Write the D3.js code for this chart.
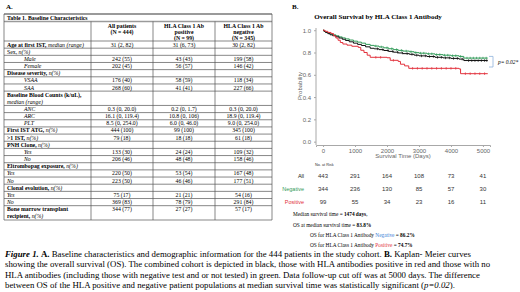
<!DOCTYPE html>
<html>
<head>
<meta charset="utf-8">
<script src="https://cdn.jsdelivr.net/npm/d3@7"></script>
<style>
  body { margin: 0; background: #fff; }
  svg { display: block; }
</style>
</head>
<body>
<div id="fig"></div>
<script>
// ---- Table 1 data ----
const tableTitle = "Table 1. Baseline Characteristics";
const tableHeads = [
  ["All patients", "(N = 444)"],
  ["HLA Class 1 Ab", "positive", "(N = 99)"],
  ["HLA Class 1 Ab", "negative", "(N = 345)"]
];
const rowLabels = [
  "**Age at first IST,** _median (range)_",
  "Sex, _n(%)_",
  "_Male_", "_Female_",
  "**Disease severity,** _n(%)_",
  "_VSAA_", "_SAA_",
  "**Baseline Blood Counts (k/uL),**|_median (range)_",
  "_ANC_", "_ARC_", "_PLT_",
  "**First IST ATG,** _n(%)_",
  "**>1 IST,** _n(%)_",
  "**PNH Clone,** _n(%)_",
  "_Yes_", "_No_",
  "**Eltrombopag exposure,** _n(%)_",
  "_Yes_", "_No_",
  "**Clonal evolution,** _n(%)_",
  "_Yes_", "_No_",
  "**Bone marrow transplant**|**recipient,** _n(%)_"
];
const indentedRows = [2, 3, 5, 6, 8, 9, 10, 14, 15];
const allPatients = ["31 (2, 82)", "", "242 (55)", "202 (45)", "", "176 (40)", "268 (60)", "",
  "0.3 (0, 20.0)", "16.1 (0, 119.4)", "8.5 (0, 254.0)", "444 (100)", "79 (18)", "",
  "133 (30)", "206 (46)", "", "220 (50)", "223 (50)", "", "75 (17)", "369 (83)", "344 (77)"];
const hlaPositive = ["31 (6, 73)", "", "43 (43)", "56 (57)", "", "58 (59)", "41 (41)", "",
  "0.2 (0, 1.7)", "10.8 (0, 106)", "6.0 (0, 46.0)", "99 (100)", "18 (18)", "",
  "24 (24)", "48 (48)", "", "53 (54)", "46 (46)", "", "21 (21)", "78 (79)", "27 (27)"];
const hlaNegative = ["30 (2, 82)", "", "199 (58)", "146 (42)", "", "118 (34)", "227 (66)", "",
  "0.3 (0, 20.0)", "18.9 (0, 119.4)", "9.0 (0, 254.0)", "345 (100)", "61 (18)", "",
  "109 (32)", "158 (46)", "", "167 (48)", "177 (51)", "", "54 (16)", "291 (84)", "57 (17)"];

// ---- Kaplan-Meier data (days, survival probability) ----
const timeTicks = [0, 1000, 2000, 3000, 4000, 5000];
const probTicks = [0, 0.2, 0.4, 0.6, 0.8, 1.0];
const survNegative = [[0,1],[30,0.99],[80,0.982],[150,0.974],[220,0.966],[300,0.959],[400,0.95],[500,0.94],
  [600,0.931],[700,0.922],[820,0.912],[950,0.902],[1080,0.893],[1200,0.884],[1330,0.873],[1474,0.864],
  [1600,0.858],[1750,0.85],[1900,0.842],[2050,0.834],[2200,0.826],[2350,0.819],[2500,0.813],[2700,0.807],
  [2850,0.799],[3000,0.794],[3250,0.788],[3500,0.781],[3750,0.776],[4000,0.771],[4250,0.765],[4400,0.75],[5150,0.75]];
const survAll = [[0,1],[30,0.99],[80,0.979],[150,0.969],[220,0.959],[300,0.951],[400,0.941],[500,0.93],
  [600,0.919],[700,0.908],[820,0.896],[950,0.884],[1080,0.873],[1200,0.863],[1330,0.851],[1474,0.838],
  [1600,0.833],[1750,0.826],[1900,0.818],[2050,0.81],[2200,0.803],[2350,0.796],[2500,0.79],[2700,0.784],
  [2850,0.776],[3000,0.77],[3250,0.764],[3500,0.757],[3750,0.752],[4000,0.747],[4250,0.741],[4400,0.728],[5150,0.728]];
const survPositive = [[0,1],[60,0.99],[150,0.98],[250,0.97],[330,0.95],[400,0.93],[470,0.91],[540,0.89],
  [620,0.876],[750,0.866],[900,0.856],[1100,0.846],[1180,0.82],[1280,0.8],[1380,0.776],[1474,0.757],
  [2000,0.753],[2100,0.73],[2350,0.72],[2420,0.695],[2550,0.68],[2680,0.658],[4250,0.653],[4300,0.61],[5150,0.61]];
const censorNegative = [1650,1820,2000,2150,2300,2450,2600,2750,2900,3050,3150,3300,3400,3550,3650,3800,
  3900,4050,4150,4300,4500,4600,4700,4800,4900,5000,5100];
const censorAll = [1700,1870,2030,2180,2330,2480,2630,2780,2930,3080,3200,3330,3450,3580,3700,3830,
  3950,4080,4200,4350,4550,4650,4750,4850,4950,5050,5120];
const censorPositive = [1650,1800,2200,2800,2950,3100,3250,3400,3550,3700,3850,4000,4150,4450,4600,4750,4900,5050];

const riskGroups = ["All", "Negative", "Positive"];
const riskAll = [443, 291, 164, 108, 73, 41];
const riskNegative = [344, 236, 130, 85, 57, 30];
const riskPositive = [99, 55, 34, 23, 16, 11];

const medianDays = "1474 days";
const osMedian = "83.8%";
const osNegative = "86.2%";
const osPositive = "74.7%";

const captionLines = [
  "__Figure 1.__ **A.** Baseline characteristics and demographic information for the 444 patients in the study cohort. **B.** Kaplan- Meier curves",
  "showing the overall survival (OS). The combined cohort is depicted in black, those with HLA antibodies positive in red and those with no",
  "HLA antibodies (including those with negative test and or not tested) in green. Data follow-up cut off was at 5000 days. The difference",
  "between OS of the HLA positive and negative patient populations at median survival time was statistically significant (_p=0.02_)."
];

// ---- drawing ----
const W = 520, H = 292;
const serif = "'Liberation Serif','Times New Roman',serif";
const sans = "'Liberation Sans',Arial,sans-serif";
const green = "#2f9a57", red = "#e2313c", blue = "#3d7fd6";

const svg = d3.select("#fig").append("svg")
  .attr("width", W).attr("height", H)
  .style("font-family", serif);

function rich(sel, str) {
  str.split(/(__.+?__|\*\*.+?\*\*|_.+?_)/).filter(s => s).forEach(s => {
    const t = sel.append("tspan");
    if (s.startsWith("__")) t.text(s.slice(2, -2)).attr("font-weight", "bold").attr("font-style", "italic");
    else if (s.startsWith("**")) t.text(s.slice(2, -2)).attr("font-weight", "bold");
    else if (s.startsWith("_")) t.text(s.slice(1, -1)).attr("font-style", "italic");
    else t.text(s);
  });
}

// panel letters
svg.append("text").attr("x", 6).attr("y", 9).attr("font-size", 7).attr("font-weight", "bold").text("A.");
svg.append("text").attr("x", 292).attr("y", 9).attr("font-size", 7).attr("font-weight", "bold").text("B.");

// ---- table ----
const cols = [4, 91, 153, 215, 272];
const tTop = 14, tTitle = 21.5, tHead = 41;
const lineCounts = rowLabels.map(l => l.split("|").length);
const cum = [0];
lineCounts.forEach(c => cum.push(cum[cum.length - 1] + c));
const rowY = d3.scaleLinear().domain([0, cum[cum.length - 1]]).range([tHead, 220]);
const lineH = rowY(1) - rowY(0);
const table = svg.append("g").attr("font-size", 5.8);

table.append("line").attr("x1", cols[0]).attr("x2", cols[4]).attr("y1", tTop).attr("y2", tTop)
  .attr("stroke", "#9a9a9a").attr("stroke-width", 2.2);
table.append("line").attr("x1", cols[0]).attr("x2", cols[4]).attr("y1", tTitle).attr("y2", tTitle)
  .attr("stroke", "#9a9a9a").attr("stroke-width", 1.6);
table.append("text").attr("x", cols[0] + 3).attr("y", tTop + 5.6).attr("font-weight", "bold").text(tableTitle);

// header
tableHeads.forEach((h, i) => {
  const cx = (cols[i + 1] + cols[i + 2]) / 2;
  h.forEach((s, j) => table.append("text").attr("x", cx).attr("y", tTitle + 6.3 + j * 5.9)
    .attr("text-anchor", "middle").attr("font-weight", "bold").text(s));
});

// row separators
cum.forEach(c => table.append("line").attr("x1", cols[0]).attr("x2", cols[4])
  .attr("y1", rowY(c)).attr("y2", rowY(c)).attr("stroke", "#555").attr("stroke-width", 0.7));
// verticals
cols.forEach((cx, i) => table.append("line").attr("x1", cx).attr("x2", cx)
  .attr("y1", (i === 0 || i === 4) ? tTop : tTitle).attr("y2", rowY(cum[cum.length - 1]))
  .attr("stroke", "#555").attr("stroke-width", 0.7));

rowLabels.forEach((lab, r) => {
  const lx = indentedRows.includes(r) ? 24 : cols[0] + 3;
  lab.split("|").forEach((part, k) => {
    const t = table.append("text").attr("x", lx).attr("y", rowY(cum[r] + k) + lineH - 1.6);
    rich(t, part);
  });
  [allPatients, hlaPositive, hlaNegative].forEach((arr, i) => {
    table.append("text").attr("x", (cols[i + 1] + cols[i + 2]) / 2)
      .attr("y", rowY(cum[r]) + lineH - 1.6).attr("text-anchor", "middle").text(arr[r]);
  });
});

// ---- Kaplan-Meier ----
const x = d3.scaleLinear().domain([-220, 5220]).range([316, 490]);
const y = d3.scaleLinear().domain([-0.03, 1.02]).range([145, 28]);

svg.append("text").attr("x", 378).attr("y", 19).attr("text-anchor", "middle")
  .attr("font-size", 7).attr("font-weight", "bold").text("Overall Survival by HLA Class 1 Antibody");

const gy = svg.append("g").attr("transform", `translate(${x.range()[0]},0)`)
  .call(d3.axisLeft(y).tickValues(probTicks).tickFormat(d3.format(".1f")).tickSize(2).tickPadding(3));
const gx = svg.append("g").attr("transform", `translate(0,${y.range()[0]})`)
  .call(d3.axisBottom(x).tickValues(timeTicks).tickFormat(d3.format("d")).tickSize(2).tickPadding(2));
[gx, gy].forEach(g => {
  g.selectAll("path,line").attr("stroke", "#a8a8a8");
  g.selectAll("text").attr("fill", "#666").attr("font-size", 6).attr("font-family", sans);
});
gy.select(".domain").attr("d", `M0,${y.range()[0]}V${y.range()[1]}`);

svg.append("text").attr("transform", `translate(302,${y(0.5)}) rotate(-90)`).attr("text-anchor", "middle")
  .attr("font-size", 6).attr("font-family", sans).attr("fill", "#666").text("Probability");
svg.append("text").attr("x", x(2500)).attr("y", 158).attr("text-anchor", "middle")
  .attr("font-size", 6).attr("font-family", sans).attr("fill", "#666").text("Survival Time (Days)");

const line = d3.line().x(d => x(d[0])).y(d => y(d[1])).curve(d3.curveStepAfter);
const bis = d3.bisector(d => d[0]).right;
[[survNegative, censorNegative, green], [survAll, censorAll, "#111"], [survPositive, censorPositive, red]]
  .forEach(([s, cen, col]) => {
    svg.append("path").datum(s).attr("d", line).attr("fill", "none").attr("stroke", col).attr("stroke-width", 1);
    svg.append("g").selectAll("line").data(cen).join("line")
      .attr("x1", t => x(t)).attr("x2", t => x(t))
      .attr("y1", t => y(s[bis(s, t) - 1][1]) - 1.3).attr("y2", t => y(s[bis(s, t) - 1][1]) + 1.3)
      .attr("stroke", col).attr("stroke-width", 0.7);
  });

// p-value bracket
svg.append("path").attr("d", `M489,${y(0.765)}H493V${y(0.67)}H489`)
  .attr("fill", "none").attr("stroke", "#8fb3dc").attr("stroke-width", 0.8);
svg.append("text").attr("x", 498).attr("y", y(0.715) + 2).attr("font-size", 5.5).attr("font-style", "italic")
  .text("p= 0.02*");

// number at risk
svg.append("text").attr("x", 315).attr("y", 166).attr("font-size", 3.8).attr("font-family", sans)
  .attr("fill", "#333").text("No. at Risk");
const riskY = d3.scalePoint().domain(riskGroups).range([178, 204]);
const riskCols = [["#222", riskAll], [green, riskNegative], [red, riskPositive]];
riskGroups.forEach((g, i) => {
  svg.append("text").attr("x", 304).attr("y", riskY(g)).attr("text-anchor", "end")
    .attr("font-size", 5.5).attr("font-family", sans).attr("fill", riskCols[i][0]).text(g);
  svg.append("g").selectAll("text").data(riskCols[i][1]).join("text")
    .attr("x", (d, j) => x(timeTicks[j])).attr("y", riskY(g)).attr("text-anchor", "middle")
    .attr("font-size", 6).attr("font-family", sans).attr("fill", "#333").text(d => d);
});

// summary lines
const sfs = 5.3;
const s1 = svg.append("text").attr("x", 293).attr("y", 216).attr("font-size", sfs);
s1.append("tspan").text("Median survival time = ");
s1.append("tspan").attr("font-weight", "bold").text(medianDays);
s1.append("tspan").text(",");
const s2 = svg.append("text").attr("x", 293).attr("y", 226.5).attr("font-size", sfs);
s2.append("tspan").text("OS at median survival time = ");
s2.append("tspan").attr("font-weight", "bold").text(osMedian);
[["Negative", blue, osNegative, 236.5], ["Positive", red, osPositive, 246.5]].forEach(([w, c, v, yy]) => {
  const s = svg.append("text").attr("x", 310).attr("y", yy).attr("font-size", sfs);
  s.append("tspan").text("OS for HLA Class 1 Antibody ");
  s.append("tspan").attr("fill", c).text(w);
  s.append("tspan").text(" = ");
  s.append("tspan").attr("font-weight", "bold").text(v);
});

// caption
const cap = svg.append("g").attr("font-size", 8.8);
captionLines.forEach((l, i) => {
  const t = cap.append("text").attr("x", 5).attr("y", 256.5 + i * 10.5);
  rich(t, l);
});
</script>
</body>
</html>
